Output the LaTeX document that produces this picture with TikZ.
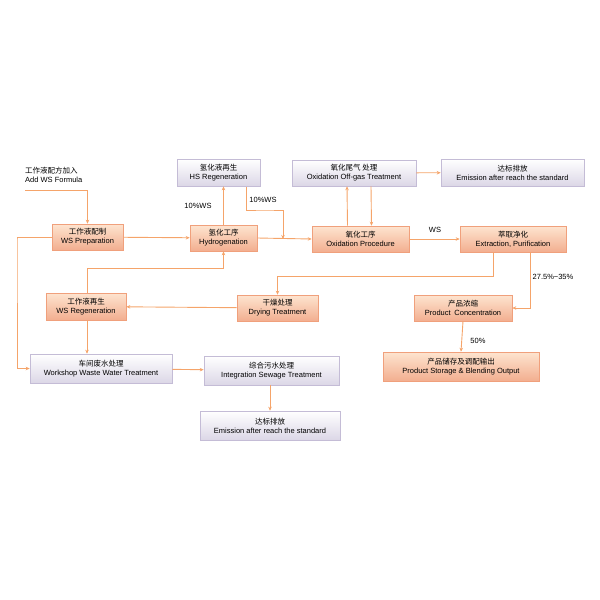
\documentclass[tikz,border=0pt]{standalone}
\usepackage{fontspec}
\setmainfont{Liberation Sans}
\newfontfamily\cjk{Noto Sans CJK SC}
\usetikzlibrary{arrows.meta,positioning}
\definecolor{arr}{HTML}{F5A46A}
\definecolor{ob}{HTML}{F0A07C}
\definecolor{lb}{HTML}{C4BCD6}
\tikzset{x=1pt,y=-1pt,
 base/.style={draw,line width=0.6pt,align=center,inner sep=0pt,font=\fontsize{7.5}{9}\selectfont},
 ob/.style={base,draw=ob,top color=orange!15!white!90!ob,bottom color=ob!85},
 lb/.style={base,draw=lb,top color=white,bottom color=lb!60},
 ar/.style={draw=arr,line width=0.9pt,-{Stealth[length=4pt,width=3.5pt]}},
 ln/.style={draw=arr,line width=0.9pt},
 lab/.style={font=\fontsize{7.5}{9}\selectfont,inner sep=0pt}}
\newcommand{\zh}[1]{{\cjk #1}}
\begin{document}
\begin{tikzpicture}
\useasboundingbox (0,0) rectangle (600,600);
\node[ob,minimum width=71,minimum height=26] (prep) at (87.5,237) {\zh{工作液配制}\\WS Preparation};
\node[ob,minimum width=67,minimum height=26] (hyd) at (223.5,238) {\zh{氢化工序}\\Hydrogenation};
\node[lb,minimum width=83,minimum height=27] (hs) at (218.5,172.5) {\zh{氢化液再生}\\HS Regeneration};
\node[lb,minimum width=124,minimum height=26] (off) at (354,173) {\zh{氧化尾气 处理}\\Oxidation Off-gas Treatment};
\node[lb,minimum width=143,minimum height=27] (em1) at (512.5,172.5) {\zh{达标排放}\\Emission after reach the standard};
\node[ob,minimum width=97,minimum height=26] (ox) at (360.5,239) {\zh{氧化工序}\\Oxidation Procedure};
\node[ob,minimum width=106,minimum height=26] (ext) at (513,239) {\zh{萃取净化}\\Extraction, Purification};
\node[ob,minimum width=80,minimum height=27] (reg) at (86,306.5) {\zh{工作液再生}\\WS Regeneration};
\node[ob,minimum width=81,minimum height=26] (dry) at (277.5,308) {\zh{干燥处理}\\Drying Treatment};
\node[ob,minimum width=98,minimum height=26] (conc) at (463,308) {\zh{产品浓缩}\\Product\enspace Concentration};
\node[ob,minimum width=156,minimum height=29] (sto) at (461,366.5) {\zh{产品储存及调配输出}\\Product Storage \& Blending Output};
\node[lb,minimum width=142,minimum height=29] (ws) at (101,368.5) {\zh{车间废水处理}\\Workshop Waste Water Treatment};
\node[lb,minimum width=135,minimum height=29] (int) at (271.5,370.5) {\zh{综合污水处理}\\Integration Sewage Treatment};
\node[lb,minimum width=140,minimum height=29] (em2) at (270,425.5) {\zh{达标排放}\\Emission after reach the standard};
\node[lab,align=left,anchor=north west] (add) at (25,167) {\zh{工作液配方加入}\\Add WS Formula};
\node[lab] (p1) at (198,206) {10\%WS};
\node[lab] (p2) at (263,200) {10\%WS};
\node[lab] (p3) at (435,230) {WS};
\node[lab] (p4) at (553,277) {27.5\%\textasciitilde35\%};
\node[lab] (p5) at (478,341) {50\%};
\coordinate (a0) at (25,190);
\draw[ar] (a0) -| (prep.north);
\draw[ar] (prep) -- (hyd);
\draw[ar] (hyd.north) -- (hyd.north|-hs.south);
\coordinate (h1) at (246,187);
\coordinate (h2) at (283,239);
\draw[ar] (h1) |- (265,210) -| (h2);
\draw[ar] (hyd.east) -- (ox.west);
\draw[ar] ([xshift=-13pt]ox.north) -- ([xshift=-7pt]off.south);
\draw[ar] ([xshift=17pt]off.south) -- ([xshift=11pt]ox.north);
\draw[ar] (off) -- (em1);
\draw[ar] (ox) -- (ext);
\coordinate (e1) at (493,276);
\draw[ar] ([xshift=-20pt]ext.south) |- (dry.north|-e1) -- (dry.north);
\coordinate (r1) at (87,268);
\draw[ar] (reg.north-|r1) |- (hyd.south|-r1) -- (hyd.south);
\draw[ar] (dry) -- (reg);
\draw[ar] (reg.south-|r1) -- (ws.north-|r1);
\coordinate (l1) at (17,239);
\draw[ar] (prep.west) -| (l1) |- (ws.west);
\draw[ar] (ws) -- (int);
\draw[ar] (int.south-|em2.north) -- (em2.north);
\coordinate (c1) at (530,252);
\draw[ar] (c1) |- (conc.east);
\draw[ar] (conc.south) -- (sto.north);
\end{tikzpicture}
\end{document}
